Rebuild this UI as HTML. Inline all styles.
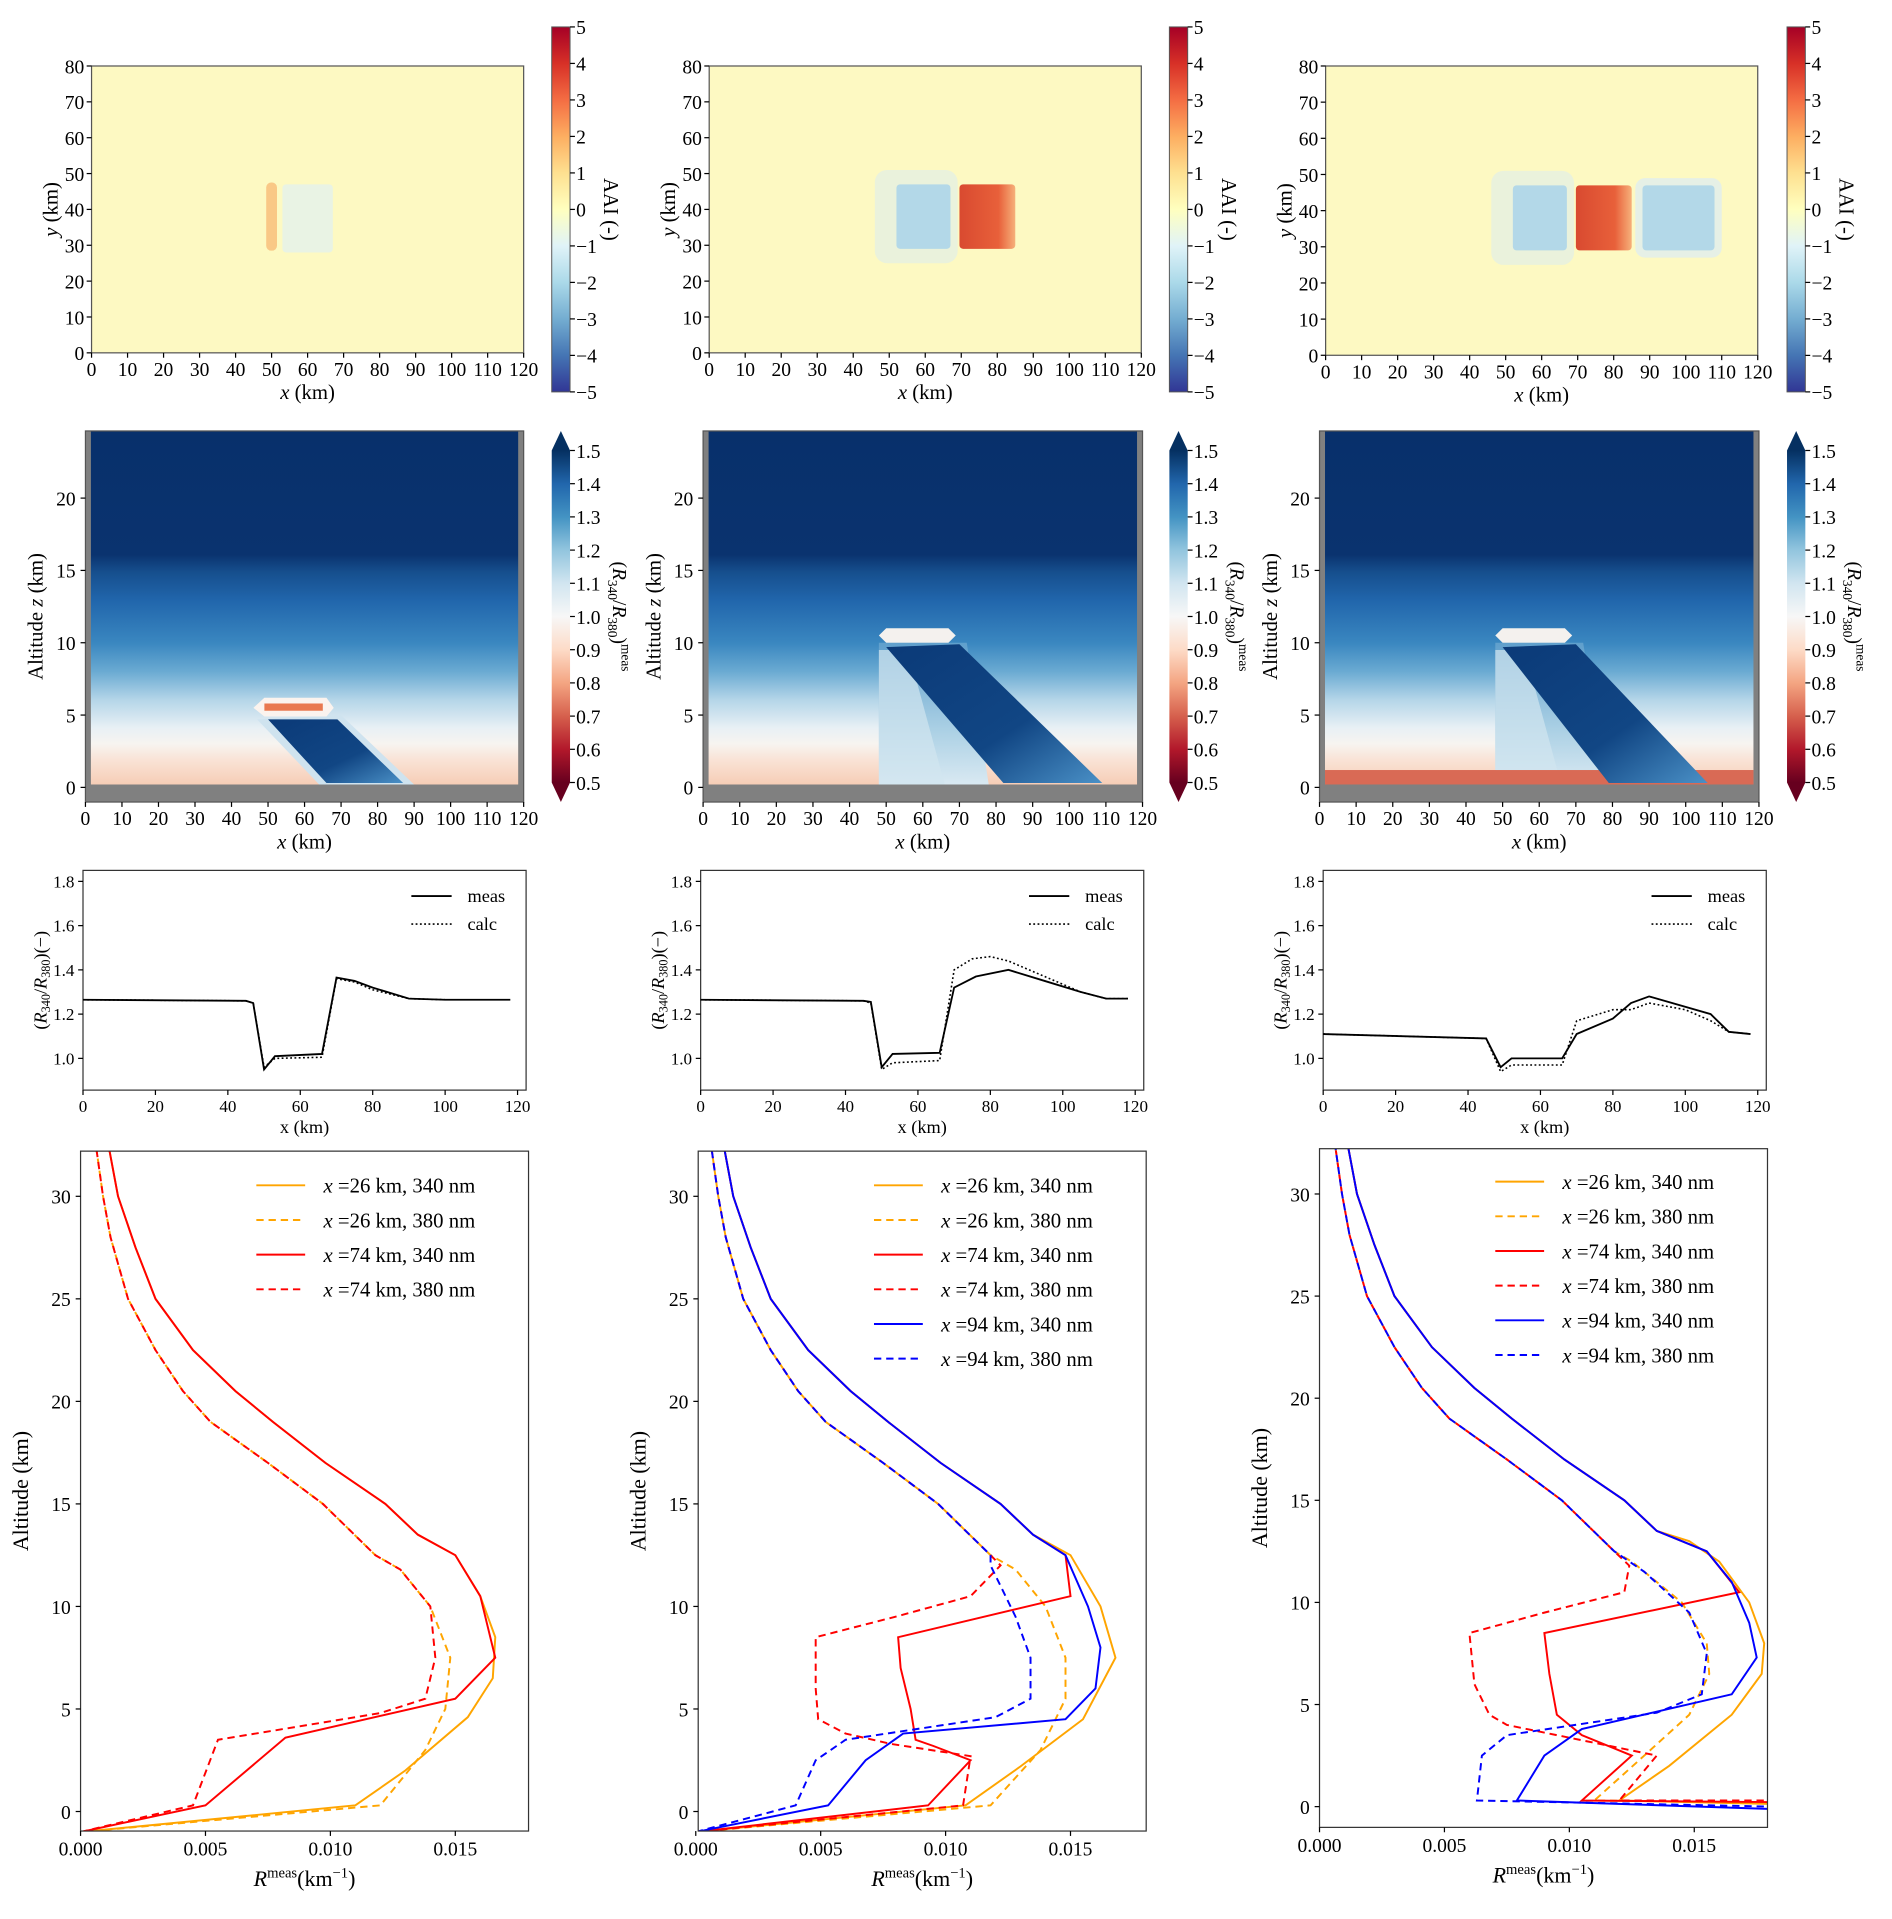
<!DOCTYPE html>
<html><head><meta charset="utf-8"><style>
html,body{margin:0;padding:0;background:#fff}
svg{display:block;font-family:"Liberation Serif",serif}
</style></head><body>
<svg id="fig" width="1892" height="1919" viewBox="0 0 1550 1572" xmlns="http://www.w3.org/2000/svg">
<defs>
<linearGradient id="gAAI" x1="0" y1="1" x2="0" y2="0">
<stop offset="0" stop-color="#313695"/><stop offset="0.1" stop-color="#4575b4"/><stop offset="0.2" stop-color="#74add1"/><stop offset="0.3" stop-color="#abd9e9"/><stop offset="0.4" stop-color="#e0f3f8"/><stop offset="0.5" stop-color="#ffffbf"/><stop offset="0.6" stop-color="#fee090"/><stop offset="0.7" stop-color="#fdae61"/><stop offset="0.8" stop-color="#f46d43"/><stop offset="0.9" stop-color="#d73027"/><stop offset="1" stop-color="#a50026"/>
</linearGradient>
<linearGradient id="gRdBu" x1="0" y1="1" x2="0" y2="0">
<stop offset="0" stop-color="#67001f"/><stop offset="0.1" stop-color="#b2182b"/><stop offset="0.2" stop-color="#d6604d"/><stop offset="0.3" stop-color="#f4a582"/><stop offset="0.4" stop-color="#fddbc7"/><stop offset="0.5" stop-color="#f7f7f7"/><stop offset="0.6" stop-color="#d1e5f0"/><stop offset="0.7" stop-color="#92c5de"/><stop offset="0.8" stop-color="#4393c3"/><stop offset="0.9" stop-color="#2166ac"/><stop offset="1" stop-color="#053061"/>
</linearGradient>
<linearGradient id="gAlt" x1="0" y1="0" x2="0" y2="1">
<stop offset="0" stop-color="#08306b"/><stop offset="0.35" stop-color="#0a336f"/><stop offset="0.40" stop-color="#164f8e"/><stop offset="0.48" stop-color="#2166ac"/><stop offset="0.6" stop-color="#3a87c0"/><stop offset="0.68" stop-color="#6aaad2"/><stop offset="0.76" stop-color="#b4d5e8"/><stop offset="0.84" stop-color="#e8f0f5"/><stop offset="0.885" stop-color="#f7f4f0"/><stop offset="0.93" stop-color="#f9e3d6"/><stop offset="1" stop-color="#f6cdb6"/>
</linearGradient>
<linearGradient id="gRed" x1="0" y1="0" x2="1" y2="0">
<stop offset="0" stop-color="#d94a30"/><stop offset="0.7" stop-color="#e8603a"/><stop offset="1" stop-color="#f6b07a"/>
</linearGradient>
<linearGradient id="gSlab" x1="0" y1="0" x2="1" y2="1">
<stop offset="0" stop-color="#0b3a78"/><stop offset="0.6" stop-color="#114684"/><stop offset="1" stop-color="#4a90c6"/>
</linearGradient>
<linearGradient id="gLeft" x1="0" y1="0" x2="0" y2="1">
<stop offset="0" stop-color="#5f9fcc"/><stop offset="0.6" stop-color="#a9cfe4"/><stop offset="1" stop-color="#d9e9f2"/>
</linearGradient>
<clipPath id="c4a"><rect x="66" y="943" width="367" height="557"/></clipPath>
<clipPath id="c4b"><rect x="572" y="943" width="367" height="557"/></clipPath>
<clipPath id="c4c"><rect x="1081" y="941" width="367" height="556"/></clipPath>
</defs>
</svg>
<script>
// ---------- data ----------
const DX = [0, 506, 1011];
const aaiTicks = [-5,-4,-3,-2,-1,0,1,2,3,4,5];
const ratioTicks = [0.5,0.6,0.7,0.8,0.9,1.0,1.1,1.2,1.3,1.4,1.5];
const xkmTicks = [0,10,20,30,40,50,60,70,80,90,100,110,120];
const yTicks1 = [0,10,20,30,40,50,60,70,80];
const zTicks2 = [0,5,10,15,20];
const xTicks3 = [0,20,40,60,80,100,120];
const yTicks3 = [1.0,1.2,1.4,1.6,1.8];
const rTicks4 = [0.000,0.005,0.010,0.015];
const zTicks4 = [0,5,10,15,20,25,30];

// row 3 line data (x km, ratio)
const measX1 = [0,45,47,50,53,66,70,75,80,90,100,118];
const measY1 = [1.265,1.26,1.25,0.95,1.01,1.02,1.365,1.35,1.32,1.27,1.265,1.265];
const calcX1 = [0,45,47,50,53,66,70,75,80,90,100,118];
const calcY1 = [1.265,1.26,1.25,0.96,1.0,1.005,1.36,1.345,1.31,1.27,1.265,1.265];
const measX2 = [0,45,47,50,53,66,70,76,85,95,105,112,118];
const measY2 = [1.265,1.26,1.255,0.96,1.02,1.025,1.32,1.37,1.40,1.35,1.30,1.27,1.27];
const calcX2 = [0,45,47,50,53,66,70,75,80,85,95,105,112,118];
const calcY2 = [1.265,1.26,1.25,0.95,0.98,0.99,1.40,1.45,1.46,1.44,1.37,1.30,1.27,1.27];
const measX3 = [0,45,49,52,66,70,80,85,90,107,112,118];
const measY3 = [1.11,1.09,0.96,1.0,1.0,1.11,1.18,1.25,1.28,1.20,1.12,1.11];
const calcX3 = [0,45,49,52,66,70,80,85,90,100,107,112,118];
const calcY3 = [1.11,1.09,0.94,0.97,0.97,1.17,1.22,1.22,1.25,1.22,1.17,1.12,1.11];

// row 4 profile data: [R, z]
const up340 = [[0.0135,13.5],[0.0122,15],[0.0098,17],[0.0077,19],[0.0062,20.5],[0.0045,22.5],[0.003,25],[0.0022,27.5],[0.0015,30],[0.0011,32.6]];
const up380 = [[0.0118,12.5],[0.0097,15],[0.0075,17],[0.0052,19],[0.0041,20.5],[0.003,22.5],[0.0019,25],[0.0012,28],[0.0009,30],[0.0006,32.6]];
const o340 = [[0,-1],[0.011,0.3],[0.013,2],[0.0155,4.6],[0.0165,6.5],[0.0166,8.5],[0.016,10.5],[0.015,12.5]];
const o380 = [[0,-1],[0.012,0.3],[0.0138,3],[0.0146,5],[0.0148,7.5],[0.014,10],[0.0128,11.8]];
const r340a = [[0,-1],[0.005,0.3],[0.0082,3.6],[0.0150,5.5],[0.0166,7.5],[0.016,10.5],[0.015,12.5]];
const r380a = [[0,-1],[0.0045,0.3],[0.0055,3.5],[0.012,4.8],[0.0138,5.5],[0.0142,7.5],[0.014,10],[0.0128,11.8]];
const o340b = [[0,-1],[0.0108,0.3],[0.013,2.2],[0.0155,4.5],[0.0168,7.5],[0.0162,10],[0.015,12.5]];
const o380b = [[0,-1],[0.0118,0.3],[0.0138,3],[0.0148,5.5],[0.0148,7.5],[0.014,10],[0.0128,11.8]];
const r340b = [[0,-1],[0.0093,0.3],[0.011,2.5],[0.0095,3.2],[0.0088,3.5],[0.0086,5],[0.0082,7],[0.0081,8.5],[0.0150,10.5],[0.0148,12.5]];
const r380b = [[0,-1],[0.0107,0.3],[0.011,2.7],[0.0078,3.3],[0.006,3.8],[0.0049,4.5],[0.0048,6],[0.0048,8.5],[0.008,9.5],[0.011,10.5],[0.0122,12]];
const b340b = [[0,-1],[0.0053,0.3],[0.0068,2.5],[0.0083,3.8],[0.0148,4.5],[0.016,6],[0.0162,8],[0.0157,10],[0.0148,12.5]];
const b380b = [[0,-1],[0.004,0.3],[0.0048,2.5],[0.006,3.5],[0.012,4.6],[0.0134,5.5],[0.0134,7.5],[0.0128,9.5],[0.0118,12]];
const o340c = [[0.03,-0.2],[0.012,0.3],[0.014,2],[0.0165,4.5],[0.0177,6.5],[0.0178,8],[0.0172,10],[0.016,12],[0.0148,13]];
const o380c = [[0.03,0.1],[0.011,0.3],[0.013,2.5],[0.0148,4.5],[0.0156,6.5],[0.0155,8],[0.0145,10],[0.0125,12]];
const r340c = [[0.03,0.1],[0.0105,0.3],[0.0125,2.5],[0.0105,3.5],[0.0095,4.5],[0.0092,6.5],[0.009,8.5],[0.0168,10.5],[0.0155,12.5]];
const r380c = [[0.03,0.3],[0.012,0.3],[0.0135,2.5],[0.0095,3.5],[0.0075,4],[0.0068,4.5],[0.0062,6],[0.006,8.5],[0.009,9.5],[0.0122,10.5],[0.0124,11.8]];
const b340c = [[0.03,-0.6],[0.0079,0.3],[0.009,2.5],[0.0105,3.8],[0.0165,5.5],[0.0175,7.3],[0.0172,9],[0.0165,11],[0.0155,12.5]];
const b380c = [[0.03,-0.3],[0.0063,0.3],[0.0065,2.5],[0.0075,3.5],[0.0135,4.6],[0.0153,5.5],[0.0155,7.5],[0.0148,9.5],[0.013,11.5]];

// ---------- helpers ----------
const svg = document.getElementById('fig');
const NS = 'http://www.w3.org/2000/svg';
function mk(tag, attrs, parent){const e=document.createElementNS(NS,tag);for(const k in attrs)e.setAttribute(k,attrs[k]);(parent||svg).appendChild(e);return e;}
function txt(s,x,y,size,anchor,parent,extra){const t=mk('text',Object.assign({x:x,y:y,'font-size':size,'text-anchor':anchor||'middle',fill:'#000'},extra||{}),parent);t.textContent=s;return t;}
function fmt(v,d){return (v<0?'\u2212':'')+Math.abs(v).toFixed(d);}

// ---------- row 1: AAI maps ----------
for(let i=0;i<3;i++){
  const dx=DX[i], x0=75+dx, x1=429+dx, yb=(i==2?291:289), yt=54;
  const sx=k=>x0+k*(x1-x0)/120, sy=v=>yb-v*(yb-yt)/80;
  const g=mk('g',{});
  
  
  mk('rect',{x:x0,y:yt,width:x1-x0,height:yb-yt,fill:'#fdf9c2'},g);
  if(i==0){
    mk('rect',{x:sx(53),y:sy(47),width:sx(67)-sx(53),height:sy(28)-sy(47),fill:'#e9f3e4',rx:3},g);
    mk('rect',{x:sx(48.5),y:sy(47.5),width:sx(51.5)-sx(48.5),height:sy(28.5)-sy(47.5),fill:'#f9c886',rx:4},g);
  } else {
    mk('rect',{x:sx(46),y:sy(51),width:sx(69)-sx(46),height:sy(25)-sy(51),fill:'#eaf2dc',rx:10},g);
    mk('rect',{x:sx(52),y:sy(47),width:sx(67)-sx(52),height:sy(29)-sy(47),fill:'#b3d8e8',rx:3},g);
    mk('rect',{x:sx(69.5),y:sy(47),width:sx(85)-sx(69.5),height:sy(29)-sy(47),fill:'url(#gRed)',rx:3},g);
    if(i==2){
      mk('rect',{x:sx(86),y:sy(49),width:sx(110)-sx(86),height:sy(27)-sy(49),fill:'#e6f0e6',rx:8},g);
      mk('rect',{x:sx(88),y:sy(47),width:sx(108)-sx(88),height:sy(29)-sy(47),fill:'#b3d8e8',rx:3},g);
    }
  }
  mk('rect',{x:x0,y:yt,width:x1-x0,height:yb-yt,fill:'none',stroke:'#555','stroke-width':1},g);
  xkmTicks.forEach(v=>{mk('line',{x1:sx(v),x2:sx(v),y1:yb,y2:yb+4,stroke:'#000'},g);txt(String(v),sx(v),yb+19,16,'middle',g);});
  yTicks1.forEach(v=>{mk('line',{x1:x0-4,x2:x0,y1:sy(v),y2:sy(v),stroke:'#000'},g);txt(String(v),x0-6,sy(v)+6,16,'end',g);});
  const xl=txt('',(x0+x1)/2,yb+38,17,'middle',g);xl.innerHTML='<tspan font-style="italic">x</tspan> (km)';
  const yl=txt('',0,0,17,'middle',g,{transform:`translate(${x0-28},${(yt+yb)/2}) rotate(-90)`});yl.innerHTML='<tspan font-style="italic">y</tspan> (km)';
  const cx=452+dx+(i==2?1:0), ct=22, cb=321;
  const cbar=mk('rect',{x:cx,y:ct,width:15,height:cb-ct,fill:'url(#gAAI)',stroke:'#555','stroke-width':0.8},g);
  
  
  aaiTicks.forEach(v=>{const y=cb-(v+5)*(cb-ct)/10;mk('line',{x1:cx+15,x2:cx+19,y1:y,y2:y,stroke:'#000'},g);txt(fmt(v,0),cx+20,y+6,16,'start',g);});
  txt('AAI (-)',0,0,17,'middle',g,{transform:`translate(${cx+43},${(ct+cb)/2}) rotate(90)`});
}

// ---------- row 2: ratio sections ----------
for(let i=0;i<3;i++){
  const dx=DX[i], x0=70+dx, x1=429+dx+(i>0?1:0), yt=353, yb=657;
  const sx=k=>x0+k*(x1-x0)/120, sz=z=>645-z*11.85;
  const g=mk('g',{});
  
  
  mk('rect',{x:x0,y:yt,width:x1-x0,height:yb-yt,fill:'#808080'},g);
  mk('rect',{x:sx(1.5),y:yt,width:sx(118.5)-sx(1.5),height:sz(0.2)-yt,fill:'url(#gAlt)'},g);
  if(i==0){
    mk('polygon',{points:`${sx(47)},${sz(4.7)} ${sx(70)},${sz(5)} ${sx(90)},${sz(0.2)} ${sx(64)},${sz(0.2)}`,fill:'#cfe3ef'},g);
    mk('polygon',{points:`${sx(50)},${sz(4.7)} ${sx(69)},${sz(4.7)} ${sx(87)},${sz(0.3)} ${sx(66)},${sz(0.3)}`,fill:'url(#gSlab)'},g);
    mk('polygon',{points:`${sx(46)},${sz(5.5)} ${sx(49)},${sz(6.2)} ${sx(66)},${sz(6.2)} ${sx(68)},${sz(5.5)} ${sx(66)},${sz(4.9)} ${sx(49)},${sz(4.9)}`,fill:'#fbf3ee'},g);
    mk('rect',{x:sx(49),y:sz(5.8),width:sx(65)-sx(49),height:sz(5.3)-sz(5.8),fill:'#e9784f'},g);
  } else {
    const xe = i==1?108:105;
    mk('polygon',{points:`${sx(48)},${sz(10)} ${sx(72)},${sz(10)} ${sx(78)},${sz(0.2)} ${sx(48)},${sz(0.2)}`,fill:'url(#gLeft)'},g);
    mk('polygon',{points:`${sx(48)},${sz(9.5)} ${sx(56)},${sz(9.5)} ${sx(66)},${sz(0.2)} ${sx(48)},${sz(0.2)}`,fill:'#d2e5f0','fill-opacity':0.7},g);
    if(i==2) mk('rect',{x:sx(1.5),y:sz(1.2),width:sx(118.5)-sx(1.5),height:sz(0.2)-sz(1.2),fill:'#d96a55'},g);
    mk('polygon',{points:`${sx(50)},${sz(9.7)} ${sx(70)},${sz(9.9)} ${sx(xe+1)},${sz(0.3)} ${sx(xe-26)},${sz(0.3)}`,fill:'url(#gSlab)'},g);
    mk('polygon',{points:`${sx(48)},${sz(10.5)} ${sx(50)},${sz(11.0)} ${sx(67)},${sz(11.0)} ${sx(69)},${sz(10.5)} ${sx(67)},${sz(10.0)} ${sx(50)},${sz(10.0)}`,fill:'#f4f1ee'},g);
  }
  mk('rect',{x:x0,y:yt,width:x1-x0,height:yb-yt,fill:'none',stroke:'#555','stroke-width':1},g);
  xkmTicks.forEach(v=>{mk('line',{x1:sx(v),x2:sx(v),y1:yb,y2:yb+4,stroke:'#000'},g);txt(String(v),sx(v),yb+19,16,'middle',g);});
  zTicks2.forEach(v=>{mk('line',{x1:x0-4,x2:x0,y1:sz(v),y2:sz(v),stroke:'#000'},g);txt(String(v),x0-8,sz(v)+6,16,'end',g);});
  const xl=txt('',(x0+x1)/2,yb+38,17,'middle',g);xl.innerHTML='<tspan font-style="italic">x</tspan> (km)';
  const yl=txt('',0,0,17,'middle',g,{transform:`translate(${x0-35},${(yt+yb)/2}) rotate(-90)`});yl.innerHTML='Altitude <tspan font-style="italic">z</tspan> (km)';
  const cx=452+dx+(i==2?1:0), ct=369, cb=641;
  const cbar=mk('rect',{x:cx,y:ct,width:15,height:cb-ct,fill:'url(#gRdBu)'},g);
  
  
  mk('polygon',{points:`${cx},${ct} ${cx+7.5},${ct-16} ${cx+15},${ct}`,fill:'#053061'},g);
  mk('polygon',{points:`${cx},${cb} ${cx+7.5},${cb+16} ${cx+15},${cb}`,fill:'#67001f'},g);
  ratioTicks.forEach(v=>{const y=cb-(v-0.5)*(cb-ct);mk('line',{x1:cx+15,x2:cx+19,y1:y,y2:y,stroke:'#000'},g);txt(v.toFixed(1),cx+20,y+6,16,'start',g);});
  const cl=txt('',0,0,16,'middle',g,{transform:`translate(${cx+50},${(ct+cb)/2}) rotate(90)`});
  cl.innerHTML='(<tspan font-style="italic">R</tspan><tspan font-size="11" dy="4">340</tspan><tspan dy="-4">/</tspan><tspan font-style="italic">R</tspan><tspan font-size="11" dy="4">380</tspan><tspan dy="-4">)</tspan><tspan font-size="11" dy="-7">meas</tspan>';
}

// ---------- row 3: line ratios ----------
const r3 = [[measX1,measY1,calcX1,calcY1],[measX2,measY2,calcX2,calcY2],[measX3,measY3,calcX3,calcY3]];
for(let i=0;i<3;i++){
  const dx=DX[i]+(i==2?5:0), x0=68+dx, x1=431+dx, yt=713, yb=893;
  const sx=k=>x0+k*(424-68)/120, sy=v=>867-(v-1.0)*(867-722)/0.8;
  const g=mk('g',{});
  
  
  mk('rect',{x:x0,y:yt,width:x1-x0,height:yb-yt,fill:'#fff',stroke:'#333','stroke-width':1},g);
  const [mx,my,cx_,cy_]=r3[i];
  const pm=mk('polyline',{points:mx.map((v,j)=>sx(v)+','+sy(my[j])).join(' '),fill:'none',stroke:'#000','stroke-width':1.5},g);
  
  
  const pc=mk('polyline',{points:cx_.map((v,j)=>sx(v)+','+sy(cy_[j])).join(' '),fill:'none',stroke:'#000','stroke-width':1.3,'stroke-dasharray':'1.5,2'},g);
  
  
  xTicks3.forEach(v=>{mk('line',{x1:sx(v),x2:sx(v),y1:yb,y2:yb+4,stroke:'#000'},g);txt(String(v),sx(v),yb+18,14,'middle',g);});
  yTicks3.forEach(v=>{mk('line',{x1:x0-4,x2:x0,y1:sy(v),y2:sy(v),stroke:'#000'},g);txt(v.toFixed(1),x0-7,sy(v)+5,14,'end',g);});
  txt('x (km)',(x0+x1)/2,yb+35,15,'middle',g);
  const yl=txt('',0,0,15,'middle',g,{transform:`translate(${x0-30},${(yt+yb)/2}) rotate(-90)`});
  yl.innerHTML='(<tspan font-style="italic">R</tspan><tspan font-size="10" dy="3">340</tspan><tspan dy="-3">/</tspan><tspan font-style="italic">R</tspan><tspan font-size="10" dy="3">380</tspan><tspan dy="-3">)(\u2212)</tspan>';
  const lg=mk('g',{},g);
  
  
  mk('line',{x1:x0+269,x2:x0+302,y1:734,y2:734,stroke:'#000','stroke-width':1.5},lg);
  txt('meas',x0+315,739,15,'start',lg);
  mk('line',{x1:x0+269,x2:x0+302,y1:757,y2:757,stroke:'#000','stroke-width':1.3,'stroke-dasharray':'1.5,2'},lg);
  txt('calc',x0+315,762,15,'start',lg);
}

// ---------- row 4: profiles ----------
const panels4 = [
  [[o340,'#ffa500',0,up340,'x =26 km, 340 nm'],[o380,'#ffa500',1,up380,'x =26 km, 380 nm'],[r340a,'#ff0000',0,up340,'x =74 km, 340 nm'],[r380a,'#ff0000',1,up380,'x =74 km, 380 nm']],
  [[o340b,'#ffa500',0,up340,'x =26 km, 340 nm'],[o380b,'#ffa500',1,up380,'x =26 km, 380 nm'],[r340b,'#ff0000',0,up340,'x =74 km, 340 nm'],[r380b,'#ff0000',1,up380,'x =74 km, 380 nm'],[b340b,'#0000ff',0,up340,'x =94 km, 340 nm'],[b380b,'#0000ff',1,up380,'x =94 km, 380 nm']],
  [[o340c,'#ffa500',0,up340,'x =26 km, 340 nm'],[o380c,'#ffa500',1,up380,'x =26 km, 380 nm'],[r340c,'#ff0000',0,up340,'x =74 km, 340 nm'],[r380c,'#ff0000',1,up380,'x =74 km, 380 nm'],[b340c,'#0000ff',0,up340,'x =94 km, 340 nm'],[b380c,'#0000ff',1,up380,'x =94 km, 380 nm']]
];
const geo4 = [{x0:66,r0:66,z0:1484,zs:16.8,yt:943,yb:1500,c:'c4a'},{x0:572,r0:570,z0:1484,zs:16.8,yt:943,yb:1500,c:'c4b'},{x0:1081,r0:1081,z0:1480,zs:16.73,yt:941,yb:1497,c:'c4c'}];
for(let i=0;i<3;i++){
  const G=geo4[i], x0=G.x0, x1=x0+367;
  const sr=r=>G.r0+r*(307/0.015), sz=z=>G.z0-z*G.zs;
  const g=mk('g',{});
  
  
  mk('rect',{x:x0,y:G.yt,width:367,height:G.yb-G.yt,fill:'#fff'},g);
  const lines=mk('g',{'clip-path':`url(#${G.c})`},g);
  panels4[i].forEach((s,j)=>{
    const pts=s[0].concat(s[3]);
    const p=mk('polyline',{points:pts.map(q=>sr(q[0])+','+sz(q[1])).join(' '),fill:'none',stroke:s[1],'stroke-width':1.6,'stroke-dasharray':s[2]?'6,4':'none'},lines);
    
    
  });
  mk('rect',{x:x0,y:G.yt,width:367,height:G.yb-G.yt,fill:'none',stroke:'#333','stroke-width':1},g);
  rTicks4.forEach(v=>{mk('line',{x1:sr(v),x2:sr(v),y1:G.yb,y2:G.yb+4,stroke:'#000'},g);txt(v.toFixed(3),sr(v),G.yb+20,16,'middle',g);});
  zTicks4.forEach(v=>{mk('line',{x1:x0-4,x2:x0,y1:sz(v),y2:sz(v),stroke:'#000'},g);txt(String(v),x0-8,sz(v)+6,16,'end',g);});
  const xl=txt('',(x0+x1)/2,G.yb+45,18,'middle',g);
  xl.innerHTML='<tspan font-style="italic">R</tspan><tspan font-size="12" dy="-7">meas</tspan><tspan dy="7">(km</tspan><tspan font-size="12" dy="-7">\u22121</tspan><tspan dy="7">)</tspan>';
  txt('Altitude (km)',0,0,18,'middle',g,{transform:`translate(${x0-43},${(G.yt+G.yb)/2}) rotate(-90)`});
  const lg=mk('g',{},g);
  
  
  const ly0 = i==2?968:971;
  panels4[i].forEach((s,j)=>{
    const y=ly0+j*28.4;
    mk('line',{x1:x0+144,x2:x0+184,y1:y,y2:y,stroke:s[1],'stroke-width':1.6,'stroke-dasharray':s[2]?'6,4':'none'},lg);
    const t=txt('',x0+199,y+6,17,'start',lg);
    t.innerHTML='<tspan font-style="italic">x</tspan>'+s[4].slice(1);
  });
}
</script>
</body></html>
